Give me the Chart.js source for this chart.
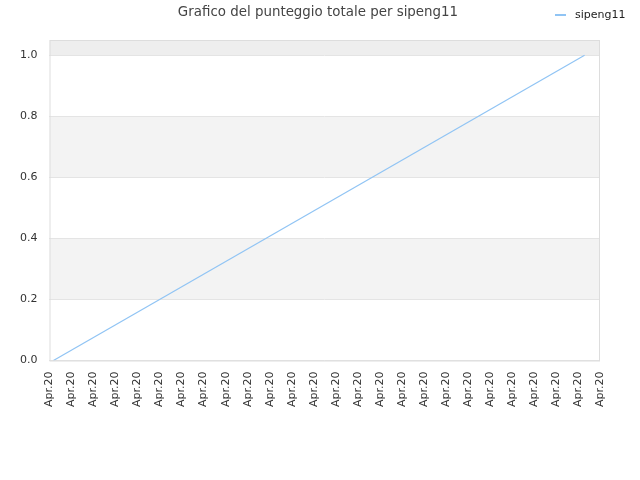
<!DOCTYPE html>
<html>
<head>
<meta charset="utf-8">
<script src="https://cdn.jsdelivr.net/npm/chart.js"></script>
<style>
  html, body { margin:0; padding:0; background:#fff; }
  #wrap { position:relative; width:640px; height:480px; font-family:'DejaVu Sans', sans-serif; }
  #title { position:absolute; left:0; width:636px; top:4px; text-align:center; font-size:13.4px; color:#444; }
  #legend { position:absolute; left:555px; top:8px; font-size:11px; color:#222; }
  #legend span.sw { display:inline-block; width:11px; height:2px; background:#90c4f4; vertical-align:middle; margin-right:9px; }
  canvas { position:absolute; left:0; top:0; }
</style>
</head>
<body>
<div id="wrap">
  <canvas id="c" width="640" height="480"></canvas>
  <div id="title"></div>
  <div id="legend"><span class="sw"></span><span id="lgname"></span></div>
</div>
<script>
// data
const titleText = 'Grafico del punteggio totale per sipeng11';
const seriesName = 'sipeng11';
const tickLabels = ['Apr.20','Apr.20','Apr.20','Apr.20','Apr.20','Apr.20','Apr.20','Apr.20','Apr.20','Apr.20',
                    'Apr.20','Apr.20','Apr.20','Apr.20','Apr.20','Apr.20','Apr.20','Apr.20','Apr.20','Apr.20',
                    'Apr.20','Apr.20','Apr.20','Apr.20','Apr.20','Apr.20'];
const xValues = [0.18, 24.3];
const yValues = [0, 1];
const yTicks = [0, 0.2, 0.4, 0.6, 0.8, 1.0];
const yMax = 1.05;

document.getElementById('title').textContent = titleText;
document.getElementById('lgname').textContent = seriesName;

const points = xValues.map((x, i) => ({ x, y: yValues[i] }));

// alternating background bands between y ticks
const bandPlugin = {
  id: 'bands',
  beforeDraw(chart) {
    const { ctx, chartArea: a, scales: { y } } = chart;
    const edges = yTicks.concat([yMax]);
    ctx.save();
    for (let i = 0; i < edges.length - 1; i++) {
      if (i % 2 === 0) continue;
      const top = y.getPixelForValue(edges[i + 1]);
      const bot = y.getPixelForValue(edges[i]);
      ctx.fillStyle = i === edges.length - 2 ? '#eeeeee' : '#f3f3f3';
      ctx.fillRect(a.left, top, a.right - a.left, bot - top);
    }
    ctx.restore();
  },
  afterDraw(chart) {
    const { ctx, chartArea: a } = chart;
    ctx.save();
    ctx.strokeStyle = '#dddddd';
    ctx.lineWidth = 1;
    ctx.strokeRect(a.left + 0.5, a.top + 0.5, a.right - a.left - 1, a.bottom - a.top);
    ctx.restore();
  }
};

new Chart(document.getElementById('c'), {
  type: 'line',
  data: {
    datasets: [{
      label: seriesName,
      data: points,
      borderColor: '#90c4f4',
      backgroundColor: '#90c4f4',
      borderWidth: 1.2,
      pointRadius: 0,
      tension: 0
    }]
  },
  options: {
    responsive: false,
    animation: false,
    layout: { padding: { left: 8, right: 40, top: 40, bottom: 70 } },
    plugins: {
      title: { display: false },
      legend: { display: false },
      tooltip: { enabled: false }
    },
    scales: {
      x: {
        type: 'linear',
        min: 0,
        max: tickLabels.length - 1,
        afterBuildTicks(axis) {
          axis.ticks = tickLabels.map((t, i) => ({ value: i }));
        },
        ticks: {
          callback: (v, i) => tickLabels[i],
          color: '#333',
          font: { family: 'DejaVu Sans', size: 11 },
          maxRotation: 90,
          minRotation: 90,
          autoSkip: false
        },
        grid: { display: false },
        border: { display: false }
      },
      y: {
        min: 0,
        max: yMax,
        afterBuildTicks(axis) {
          axis.ticks = yTicks.map(v => ({ value: v }));
        },
        ticks: {
          callback: v => v.toFixed(1),
          color: '#333',
          font: { family: 'DejaVu Sans', size: 11 },
          padding: 12
        },
        grid: { color: '#e4e4e4', drawTicks: false },
        border: { display: false }
      }
    }
  },
  plugins: [bandPlugin]
});
</script>
</body>
</html>
